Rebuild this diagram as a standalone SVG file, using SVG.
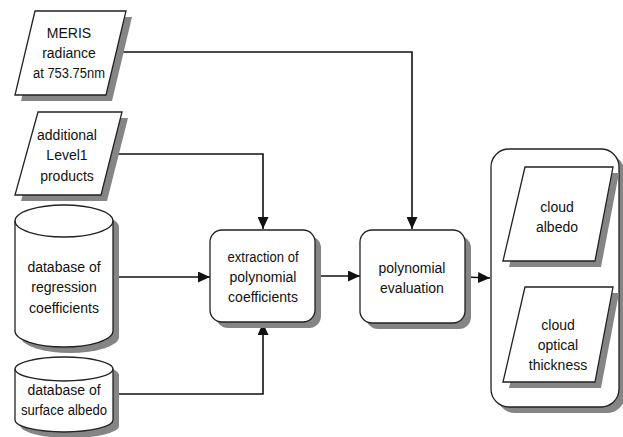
<svg xmlns="http://www.w3.org/2000/svg" width="623" height="437" viewBox="0 0 623 437">
<style>
.sh{fill:#858585;stroke:none}
.nd{fill:#fff;stroke:#222;stroke-width:1.3}
.t{font-family:"Liberation Sans",Arial,sans-serif;font-size:14px;fill:#111;text-anchor:middle}
.c{fill:none;stroke:#111;stroke-width:1.6}
</style>
<defs>
<marker id="ah" viewBox="0 0 12 11" refX="12" refY="5.5" markerWidth="12" markerHeight="11" markerUnits="userSpaceOnUse" orient="auto">
<path d="M0,0 L12,5.5 L0,11 Z" fill="#111"/>
</marker>
</defs>
<rect width="623" height="437" fill="#fff"/>
<g id="connectors">
<path class="c" d="M116,52 H412 V229" marker-end="url(#ah)"/>
<path class="c" d="M112,154 H263 V229" marker-end="url(#ah)"/>
<path class="c" d="M113,277 H210" marker-end="url(#ah)"/>
<path class="c" d="M113,394 H263 V323" marker-end="url(#ah)"/>
<path class="c" d="M315,276 H360" marker-end="url(#ah)"/>
<path class="c" d="M465,277 L490,278" marker-end="url(#ah)"/>
</g>
<g id="meris">
<polygon class="sh" points="41,17 132,17 112,101 21,101"/>
<polygon class="nd" points="35,11 126,11 106,95 15,95"/>
<text class="t" x="69" y="38">MERIS</text>
<text class="t" x="69" y="58">radiance</text>
<text class="t" x="69" y="78" textLength="72" lengthAdjust="spacingAndGlyphs">at 753.75nm</text>
</g>
<g id="level1">
<polygon class="sh" points="44,118 128,118 107,201 21,201"/>
<polygon class="nd" points="38,112 122,112 101,195 15,195"/>
<text class="t" x="67" y="140">additional</text>
<text class="t" x="67" y="160">Level1</text>
<text class="t" x="67" y="181">products</text>
</g>
<g id="regression">
<path class="sh" d="M21,227 A49,16 0 0 1 119,227 V337 A49,16 0 0 1 21,337 Z"/>
<path class="nd" d="M15,221 A49,16 0 0 1 113,221 V331 A49,16 0 0 1 15,331 Z"/>
<path class="nd" style="fill:none" d="M15,221 A49,16 0 0 0 113,221"/>
<text class="t" x="64" y="272">database of</text>
<text class="t" x="64" y="292">regression</text>
<text class="t" x="64" y="313">coefficients</text>
</g>
<g id="surface">
<path class="sh" d="M21,375 A49,12 0 0 1 119,375 V426 A49,12 0 0 1 21,426 Z"/>
<path class="nd" d="M15,369 A49,12 0 0 1 113,369 V420 A49,12 0 0 1 15,420 Z"/>
<path class="nd" style="fill:none" d="M15,369 A49,12 0 0 0 113,369"/>
<text class="t" x="64" y="395">database of</text>
<text class="t" x="64" y="415" textLength="86" lengthAdjust="spacingAndGlyphs">surface albedo</text>
</g>
<g id="extraction">
<rect class="sh" x="216" y="236" width="105" height="92" rx="12"/>
<rect class="nd" x="210" y="230" width="105" height="92" rx="12"/>
<text class="t" x="263" y="262" textLength="71" lengthAdjust="spacingAndGlyphs">extraction of</text>
<text class="t" x="263" y="282">polynomial</text>
<text class="t" x="263" y="302">coefficients</text>
</g>
<g id="evaluation">
<rect class="sh" x="366" y="236" width="105" height="93" rx="12"/>
<rect class="nd" x="360" y="230" width="105" height="93" rx="12"/>
<text class="t" x="412" y="273">polynomial</text>
<text class="t" x="412" y="293">evaluation</text>
</g>
<g id="outputs">
<rect class="sh" x="497" y="155" width="128" height="258" rx="18"/>
<rect class="nd" x="491" y="149" width="128" height="258" rx="18"/>
<g id="albedo">
<polygon class="sh" points="531,173 619,173 601,267 509,267"/>
<polygon class="nd" points="525,167 613,167 595,261 503,261"/>
<text class="t" x="557" y="212">cloud</text>
<text class="t" x="557" y="232">albedo</text>
</g>
<g id="thickness">
<polygon class="sh" points="531,293 619,293 601,388 509,388"/>
<polygon class="nd" points="525,287 613,287 595,382 503,382"/>
<text class="t" x="558" y="330">cloud</text>
<text class="t" x="558" y="350">optical</text>
<text class="t" x="558" y="370">thickness</text>
</g>
</g>
</svg>
